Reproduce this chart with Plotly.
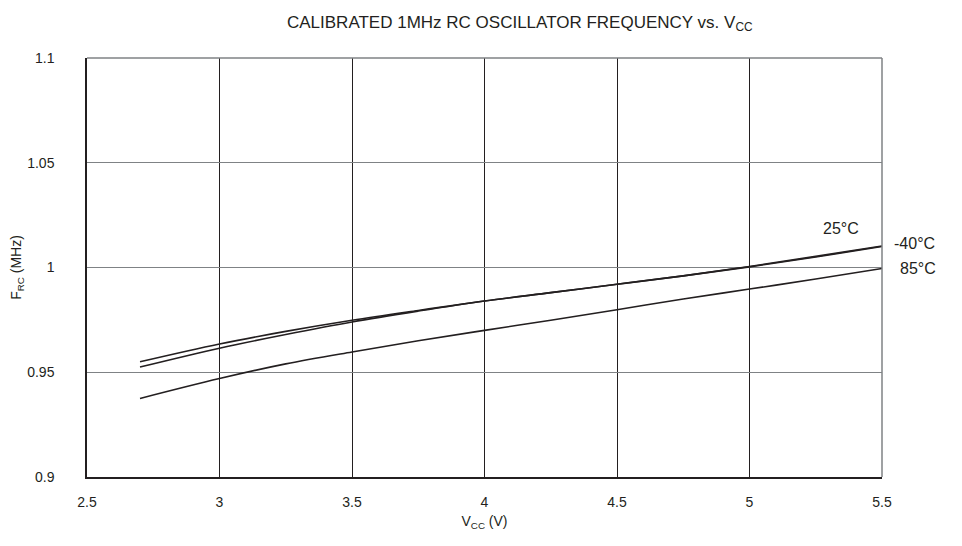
import plotly.graph_objects as go

DARK = "#231F20"
GRID_GRAY = "#7F8285"

vcc = [2.7, 3.0, 3.25, 3.5, 3.75, 4.0, 4.25, 4.5, 4.75, 5.0, 5.25, 5.5]
f_25 = [0.955, 0.9635, 0.9695, 0.9748, 0.9795, 0.984, 0.988, 0.992, 0.996, 1.0003, 1.005, 1.0100]
f_m40 = [0.9525, 0.9615, 0.968, 0.974, 0.9792, 0.984, 0.988, 0.992, 0.996, 1.0005, 1.0053, 1.0103]
f_85 = [0.9375, 0.947, 0.954, 0.9597, 0.965, 0.970, 0.9748, 0.9798, 0.985, 0.9897, 0.9945, 0.9995]

x_ticks = [2.5, 3, 3.5, 4, 4.5, 5, 5.5]
y_ticks = [0.9, 0.95, 1, 1.05, 1.1]

fig = go.Figure()
for name, vals in [("25°C", f_25), ("-40°C", f_m40), ("85°C", f_85)]:
    fig.add_trace(go.Scatter(x=vcc, y=vals, mode="lines", name=name,
                             line=dict(color=DARK, width=1.6, shape="spline")))

# curve labels at the right (paper x so they are not hidden outside the range)
labels = [("25°C", 0.948, 1.0185, "center"), ("-40°C", 1.013, 1.0115, "left"), ("85°C", 1.02, 0.9995, "left")]
for text, lx, ly, anchor in labels:
    fig.add_annotation(x=lx, y=ly, xref="paper", yref="y", text=text, showarrow=False,
                       xanchor=anchor, font=dict(size=16, color=DARK))

fig.add_shape(type="line", xref="paper", yref="paper", x0=0, x1=1, y0=1, y1=1,
              line=dict(color=GRID_GRAY, width=1.5))
fig.add_shape(type="line", xref="paper", yref="paper", x0=1, x1=1, y0=0, y1=1,
              line=dict(color=GRID_GRAY, width=1.5))

fig.update_layout(
    width=962,
    height=546,
    margin=dict(l=79, r=88, t=50, b=77),
    paper_bgcolor="white",
    plot_bgcolor="white",
    showlegend=False,
    font=dict(family="Liberation Sans, Arial", color=DARK, size=14),
    title=dict(text="CALIBRATED 1MHz RC OSCILLATOR FREQUENCY vs. V<sub>CC</sub>",
               xref="container", x=0.532, xanchor="center", y=0.975, yanchor="middle",
               font=dict(size=17), automargin=False),
)
fig.update_xaxes(
    range=[2.5, 5.5], tickvals=x_ticks, ticktext=[f"{t:g}" for t in x_ticks],
    showgrid=True, gridcolor=DARK, gridwidth=1,
    showline=True, linecolor=DARK, linewidth=1.5, zeroline=False,
    ticks="", ticklabelstandoff=11, automargin=False,
    title=dict(text="V<sub>CC</sub> (V)", font=dict(size=14), standoff=8),
)
fig.update_yaxes(
    range=[0.9, 1.1], tickvals=y_ticks, ticktext=[f"{t:g}" for t in y_ticks],
    showgrid=True, gridcolor=GRID_GRAY, gridwidth=1,
    showline=True, linecolor=DARK, linewidth=1.5, zeroline=False,
    ticks="", ticklabelstandoff=28, automargin=False,
    title=dict(text="F<sub>RC</sub> (MHz)", font=dict(size=14), standoff=10),
)

fig.write_html("out.html")
